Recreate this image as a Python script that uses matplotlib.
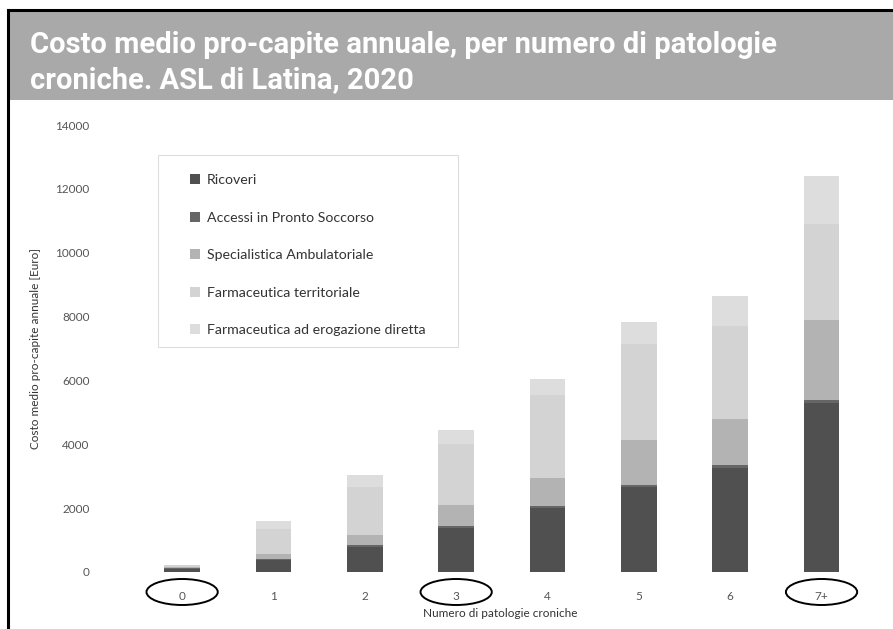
import matplotlib
matplotlib.use("Agg")
import matplotlib.pyplot as plt
import matplotlib.transforms as mtransforms
from matplotlib.patches import Ellipse, Rectangle
from matplotlib.lines import Line2D
import numpy as np

categories = ["0", "1", "2", "3", "4", "5", "6", "7+"]
ricoveri = [100, 370, 780, 1380, 2000, 2650, 3250, 5300]
pronto_soccorso = [15, 30, 50, 60, 70, 80, 100, 100]
specialistica = [50, 150, 330, 660, 870, 1400, 1450, 2500]
farm_territoriale = [50, 800, 1500, 1900, 2600, 3000, 2900, 3000]
farm_diretta = [15, 250, 370, 450, 500, 700, 950, 1500]
series_names = ["Ricoveri", "Accessi in Pronto Soccorso", "Specialistica Ambulatoriale",
                "Farmaceutica territoriale", "Farmaceutica ad erogazione diretta"]
series_colors = ["#505050", "#666666", "#b3b3b3", "#d3d3d3", "#dddddd"]
circled = ["0", "3", "7+"]
yticks = [0, 2000, 4000, 6000, 8000, 10000, 12000, 14000]

W, H = 893, 629
fig = plt.figure(figsize=(W / 100, H / 100), dpi=100)
fig.patch.set_facecolor("white")

# banner
fig.add_artist(Rectangle((10 / W, 1 - 100 / H), (W - 10) / W, 88 / H,
                         transform=fig.transFigure, facecolor="#a9a9a9",
                         edgecolor="none", zorder=0))
fig.add_artist(Line2D([8 / W, 8 / W], [0, 1 - 10 / H], transform=fig.transFigure,
                      color="black", lw=2.2))
fig.add_artist(Line2D([8 / W, 1], [1 - 10 / H, 1 - 10 / H], transform=fig.transFigure,
                      color="black", lw=2.2))
fig.text(30 / W, 1 - 45 / H, "Costo medio pro-capite annuale, per numero di patologie",
         color="white", fontsize=21, fontweight="bold", family="Roboto",
         ha="left", va="center")
fig.text(30 / W, 1 - 80 / H, "croniche. ASL di Latina, 2020",
         color="white", fontsize=21, fontweight="bold", family="Roboto",
         ha="left", va="center")

ax = fig.add_axes([120 / W, (H - 572) / H, 760 / W, 447 / H])
x = np.arange(len(categories))
bottom = np.zeros(len(categories))
data = [ricoveri, pronto_soccorso, specialistica, farm_territoriale, farm_diretta]
for vals, name, col in zip(data, series_names, series_colors):
    ax.bar(x, vals, 0.39, bottom=bottom, color=col, label=name, edgecolor="none")
    bottom += np.array(vals)

ax.set_xlim(-0.68, 7.64)
ax.set_ylim(0, 14000)
ax.set_yticks(yticks)
ax.set_yticklabels([str(v) for v in yticks], family="Lato", fontsize=8.5, color="#555555")
ax.set_xticks(x)
ax.set_xticklabels(categories, family="Lato", fontsize=8.5, color="#555555")
ax.tick_params(length=0, pad=14)
ax.tick_params(axis="y", pad=22)
for s in ax.spines.values():
    s.set_visible(False)

ax.set_ylabel("Costo medio pro-capite annuale [Euro]", family="Lato", fontsize=8.5,
              color="#333333", labelpad=10)
ax.set_xlabel("Numero di patologie croniche", family="Lato", fontsize=8.5,
              color="#333333", labelpad=4)

trans = mtransforms.blended_transform_factory(ax.transData, ax.transAxes)
for c in circled:
    i = categories.index(c)
    e = Ellipse((i, -20 / 447), 0.78, 26 / 447, transform=trans, fill=False,
                edgecolor="black", lw=1.4, clip_on=False)
    ax.add_patch(e)

# legend frame
ax.add_patch(Rectangle((158 / W, 1 - 347 / H), 300 / W, 192 / H,
                       transform=fig.transFigure, facecolor="white",
                       edgecolor="#dddddd", lw=0.8, zorder=3, clip_on=False))
leg = ax.legend(loc="upper left", bbox_to_anchor=((190 - 120) / 760, (572 - 174) / 447),
                frameon=False, prop={"family": "Lato", "size": 10.2},
                labelspacing=1.8, handlelength=0.7, handleheight=0.7,
                handletextpad=0.5, borderpad=0, borderaxespad=0)
leg.set_zorder(4)
for t in leg.get_texts():
    t.set_color("#333333")

fig.savefig("out.png", dpi=100)
